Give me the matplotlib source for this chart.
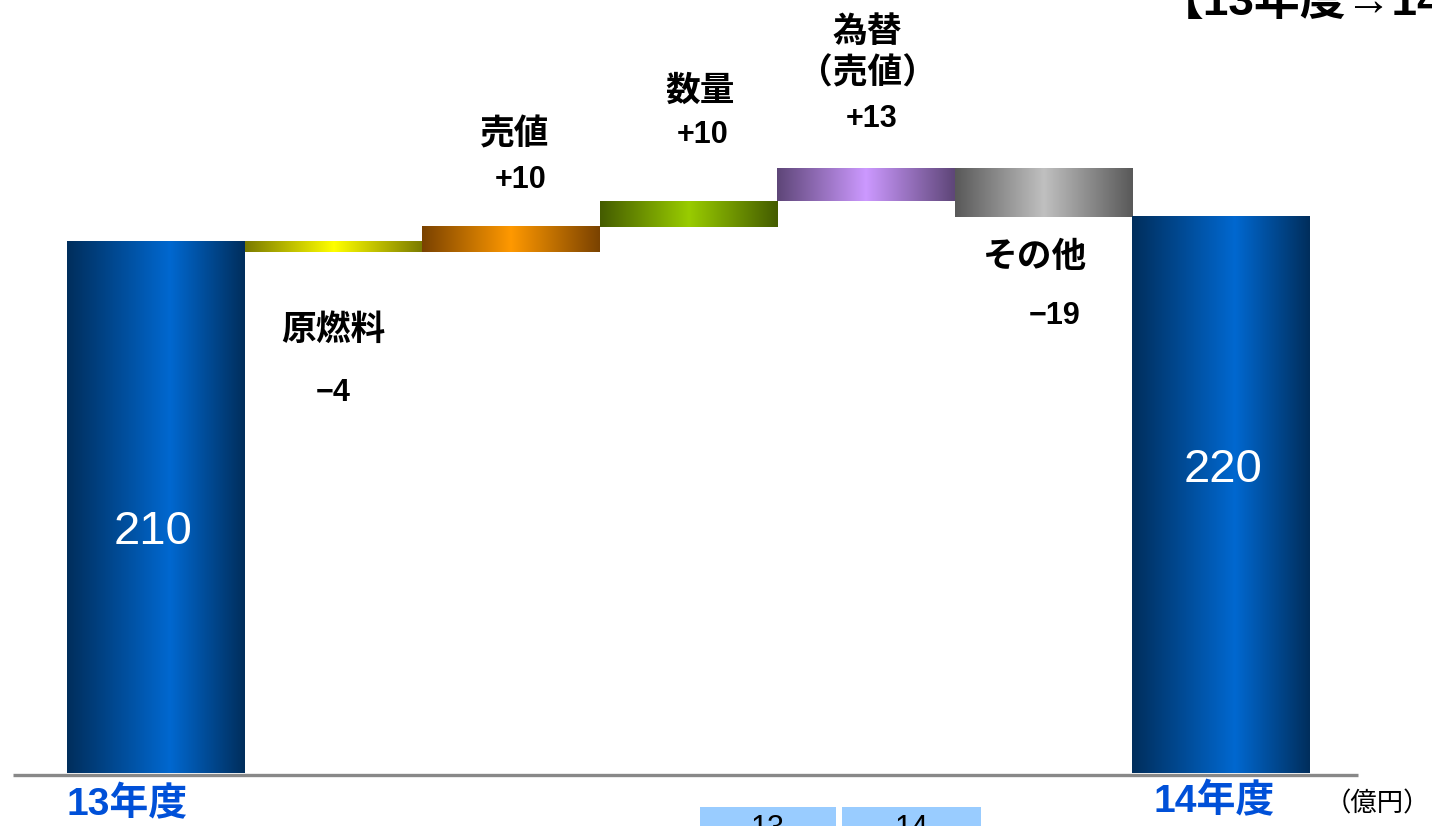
import matplotlib
matplotlib.use("Agg")
import matplotlib.pyplot as plt
import numpy as np
from matplotlib.colors import LinearSegmentedColormap
from matplotlib.patches import Rectangle

plt.rcParams['font.family'] = ['Liberation Sans', 'Noto Sans CJK JP', 'DejaVu Sans']

# ---- data ----
categories = ['13年度', '原燃料', '売値', '数量', '為替\n（売値）', 'その他', '14年度']
start_value = 210
deltas = [-4, 10, 10, 13, -19]
end_value = 220
unit_label = '（億円）'
title_text = '【13年度→14年度】'
bottom_boxes = ['13', '14']

W, H = 1432, 826
fig = plt.figure(figsize=(W / 100, H / 100), dpi=100)
fig.patch.set_facecolor('white')

ax = fig.add_axes([0, 0, 1, 1])
ppu = 2.529          # pixels per unit
base_px = 773        # baseline pixel row (from top)
x0_px, xstep = 156, 177.5

def grad_cmap(edge, center, pos=0.55):
    return LinearSegmentedColormap.from_list('g', [(0, edge), (pos, center), (1, edge)])

cmaps = [
    grad_cmap('#002E5C', '#0068D0', 0.58),
    grad_cmap('#7A7A00', '#FFFF00', 0.5),
    grad_cmap('#7A4200', '#FF9900', 0.5),
    grad_cmap('#445C00', '#99CC00', 0.5),
    grad_cmap('#5E4678', '#CC99FF', 0.5),
    grad_cmap('#595959', '#C0C0C0', 0.5),
    grad_cmap('#002E5C', '#0068D0', 0.58),
]

bottoms, tops = [0], [start_value]
level = start_value
for d in deltas:
    lo, hi = sorted([level, level + d])
    bottoms.append(lo); tops.append(hi)
    level += d
bottoms.append(0); tops.append(end_value)

grad = np.linspace(0, 1, 256).reshape(1, -1)
for i, (b, t) in enumerate(zip(bottoms, tops)):
    ax.imshow(grad, cmap=cmaps[i], extent=(i - 0.5, i + 0.5, b, t),
              aspect='auto', interpolation='bicubic', zorder=2)
ax.set_xlim(-x0_px / xstep, (W - x0_px) / xstep)
ax.set_ylim(-(H - base_px) / ppu, base_px / ppu)
ax.axis('off')

# baseline
ax.plot([(13 - x0_px) / xstep, (1358 - x0_px) / xstep], [-0.6, -0.6],
        color='#888888', lw=2.4, zorder=3, solid_capstyle='butt')

def fpos(x, y):
    return x / W, 1 - y / H

def fmt(v):
    return f"{v:+d}".replace('-', '−')

# totals inside bars
fig.text(*fpos(153, 532), str(start_value), color='white', fontsize=34,
         ha='center', va='center')
fig.text(*fpos(1223, 470), str(end_value), color='white', fontsize=34,
         ha='center', va='center')

# category labels and deltas
lab_pos = [(333, 330), (515, 135), (700, 91), (867, 53), (1035, 257)]
val_pos = [(333, 393), (521, 180), (703, 135), (872, 119), (1055, 316)]
for k in range(5):
    fig.text(*fpos(*lab_pos[k]), categories[k + 1], fontsize=25, weight='bold',
             ha='center', va='center', linespacing=1.3)
    fig.text(*fpos(*val_pos[k]), fmt(deltas[k]), fontsize=22, weight='bold',
             ha='center', va='center')

# bottom labels
fig.text(*fpos(127, 805), categories[0], color='#0050D8', fontsize=28,
         weight='bold', ha='center', va='center')
fig.text(*fpos(1214, 802), categories[-1], color='#0050D8', fontsize=28,
         weight='bold', ha='center', va='center')
fig.text(*fpos(1377, 804), unit_label, color='black', fontsize=19,
         ha='center', va='center')

# title (cut off at top right)
fig.text(*fpos(1158, 15), title_text, fontsize=33, weight='bold',
         ha='left', va='baseline')

# bottom light-blue boxes (cut off)
for (xa, xb), lab in zip([(700, 836), (842, 981)], bottom_boxes):
    fig.patches.append(Rectangle((xa / W, 0), (xb - xa) / W, (H - 807) / H,
                                 transform=fig.transFigure, facecolor='#99CCFF',
                                 edgecolor='none', zorder=1))
    fig.text(*fpos((xa + xb) / 2, 814), lab, fontsize=22, ha='center', va='top',
             color='black', zorder=2)

fig.savefig('out.png', dpi=100, facecolor='white')
